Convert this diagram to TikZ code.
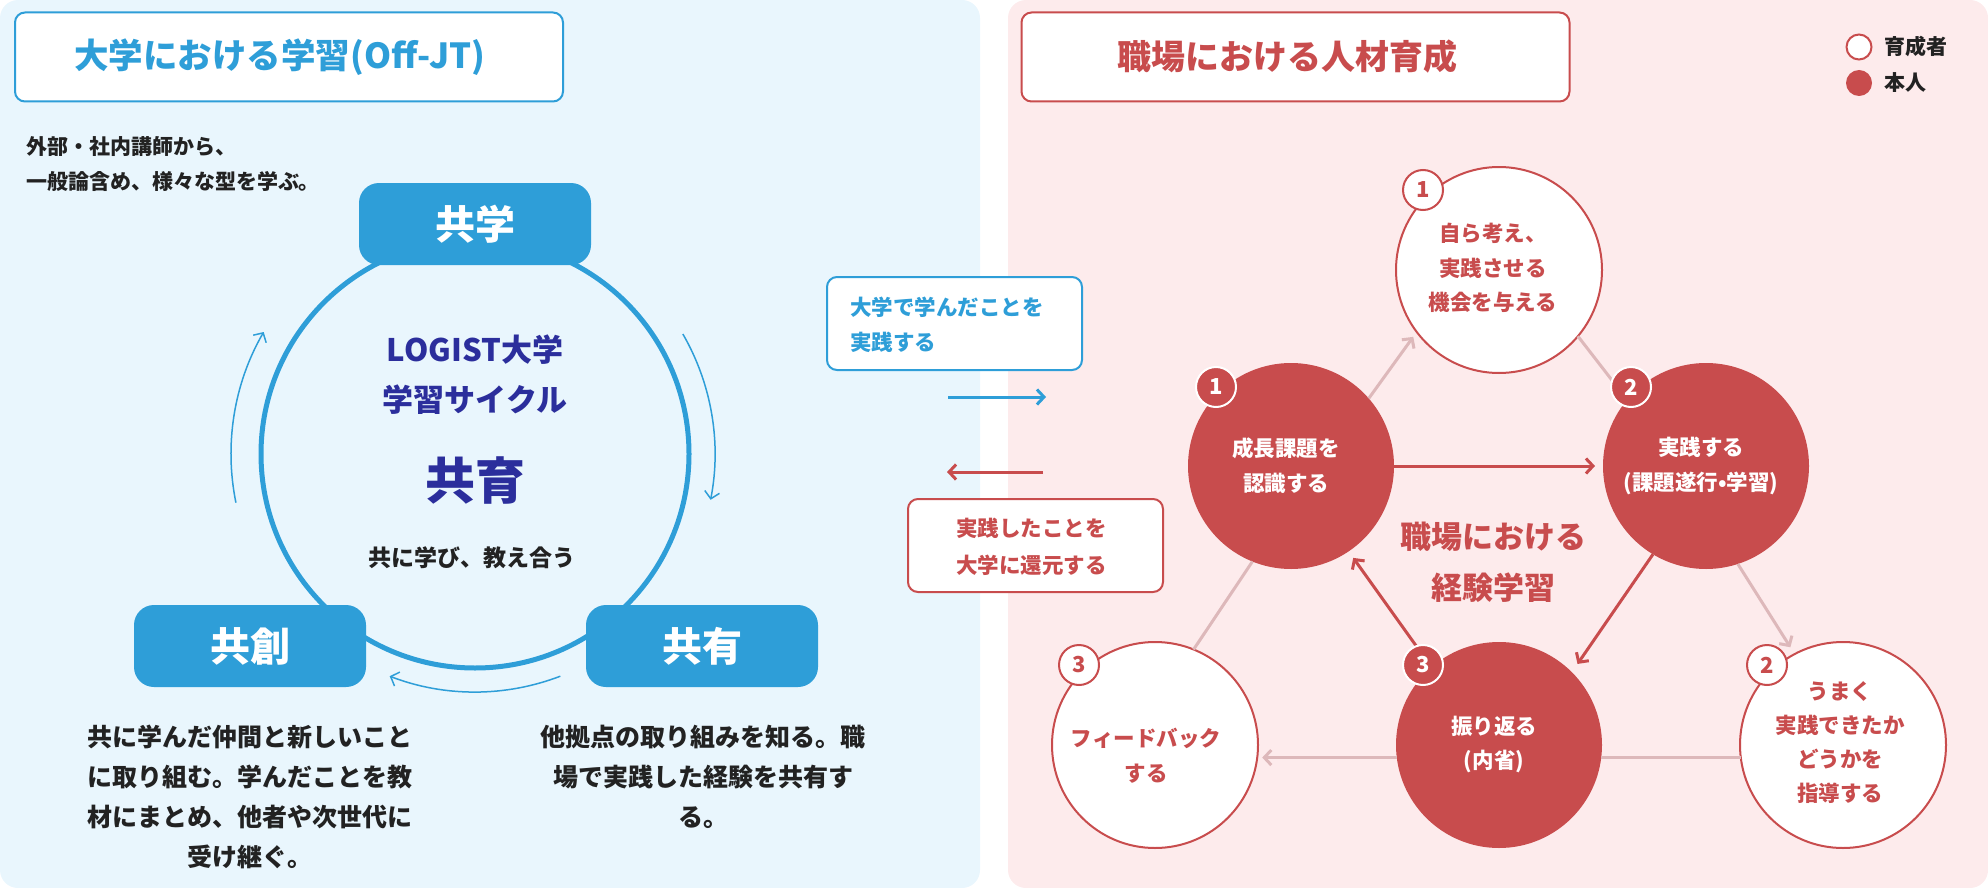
\documentclass[tikz,border=0pt]{standalone}
\usepackage{fontspec}
\setmainfont{Noto Sans CJK JP}
\usetikzlibrary{arrows.meta}
\definecolor{cblue}{HTML}{2E9ED8}
\definecolor{bgblue}{HTML}{E9F6FD}
\definecolor{bgpink}{HTML}{FDEBEC}
\definecolor{cred}{HTML}{C84C4D}
\definecolor{lpink}{HTML}{DDB8BA}
\definecolor{navy}{HTML}{2B2E9C}
\definecolor{ink}{HTML}{222222}
\newcommand{\fs}[2]{\fontsize{#1}{#2}\selectfont\bfseries}
\begin{document}
\begin{tikzpicture}[x=1pt,y=-1pt,
  every node/.style={inner sep=0pt, outer sep=0pt},
  titlebox/.style={draw, line width=2pt, rounded corners=10pt, fill=white, minimum width=548pt, minimum height=89pt},
  keybox/.style={fill=cblue, rounded corners=20pt, minimum width=232pt, minimum height=82pt, text=white, font=\fs{40}{48}},
  wc/.style={circle, draw=cred, line width=2pt, fill=white, minimum size=206pt},
  rc/.style={circle, fill=cred, minimum size=206pt},
  wbadge/.style={circle, draw=cred, line width=2pt, fill=white, text=cred, minimum size=40pt, font=\fs{22}{26}},
  rbadge/.style={circle, draw=white, line width=2pt, fill=cred, text=white, minimum size=40pt, font=\fs{22}{26}},
  wtext/.style={text=cred, align=center},
  rtext/.style={text=white, align=center},
  barb/.style={-{Straight Barb[length=7pt,width=15pt]}},
  thinarc/.style={cblue, line width=1.5pt, barb},
  lpline/.style={lpink, line width=3pt},
  rline/.style={cred, line width=3pt}
]
\useasboundingbox (0,0) rectangle (1988,888);
% panels
\fill[bgblue, rounded corners=18pt] (0,0) rectangle (980,888);
\fill[bgpink, rounded corners=18pt] (1008,0) rectangle (1988,888);

% ===== left panel =====
\node[titlebox, draw=cblue] (tl) at (289,57) {};
\node[text=cblue, font=\fs{34.5}{40}] (tlt) at (280,57) {大学における学習(Off-JT)};
\node[anchor=west, align=left, text=ink, font=\fs{21}{35}] (intro) at (26,164.5) {外部・社内講師から、\\一般論含め、様々な型を学ぶ。};

\coordinate (cc) at (475,454);
\draw[cblue, line width=5pt] (cc) circle[radius=214];
\draw[thinarc] ([shift={(-191.5:244)}]cc) arc[start angle=-191.5, end angle=-150, radius=244];
\draw[thinarc] ([shift={(-30:240)}]cc) arc[start angle=-30, end angle=11, radius=240];
\draw[thinarc] ([shift={(69:238)}]cc) arc[start angle=69, end angle=111, radius=238];

\node[keybox] (kg) at (475,224) {共学};
\node[keybox] (ks) at (250,646) {共創};
\node[keybox] (ky) at (702,646) {共有};

\node[text=navy, align=center, font=\fs{31}{50}] (lg) at (475,375) {LOGIST大学\\学習サイクル};
\node[text=navy, font=\fs{50}{56}] (ki) at (475,480) {共育};
\node[text=ink, font=\fs{23}{28}] (km) at (472,558) {共に学び、教え合う};

\node[text=ink, align=center, font=\fs{25}{40}] (t1) at (250,797) {共に学んだ仲間と新しいこと\\に取り組む。学んだことを教\\材にまとめ、他者や次世代に\\受け継ぐ。};
\node[text=ink, align=center, font=\fs{25}{40}] (t2) at (703,777) {他拠点の取り組みを知る。職\\場で実践した経験を共有す\\る。};

% ===== middle =====
\node[draw=cblue, line width=2pt, fill=white, rounded corners=10pt, minimum width=255pt, minimum height=93pt] (mb1) at (954.5,323.5) {};
\node[text=cblue, anchor=west, align=left, font=\fs{21.5}{35}] (mb1t) at (850,324.5) {大学で学んだことを\\実践する};
\node[draw=cred, line width=2pt, fill=white, rounded corners=10pt, minimum width=255pt, minimum height=93pt] (mb2) at (1035.5,545.5) {};
\node[text=cred, anchor=west, align=left, font=\fs{21.5}{37}] (mb2t) at (956,546.5) {実践したことを\\大学に還元する};
\coordinate (ba1) at (948,397);
\coordinate (ba2) at (1046,397);
\coordinate (ra1) at (1043,472);
\coordinate (ra2) at (947,472);
\draw[cblue, line width=3pt, barb] (ba1) -- (ba2);
\draw[cred, line width=3pt, barb] (ra1) -- (ra2);

% ===== right panel =====
\node[titlebox, draw=cred] (tr) at (1295.5,57) {};
\node[text=cred, font=\fs{34}{40}] (trt) at (1287,57) {職場における人材育成};
\node[circle, draw=cred, line width=2pt, fill=white, minimum size=25pt] (lg1) at (1859,47) {};
\node[anchor=west, text=ink, font=\fs{21}{26}] (lg1t) at (1884,47) {育成者};
\node[circle, fill=cred, minimum size=26pt] (lg2) at (1859,83) {};
\node[anchor=west, text=ink, font=\fs{21}{26}] (lg2t) at (1884,83) {本人};

\node[wc] (w1) at (1499,270) {};
\node[rc] (r1) at (1291,466) {};
\node[rc] (r2) at (1706,466) {};
\node[rc] (r3) at (1499,745) {};
\node[wc] (w3) at (1155,745) {};
\node[wc] (w2) at (1843,745) {};

% light connectors
\draw[lpline, barb, shorten >=6pt] (r1.41.5) -- (w1.217);
\draw[lpline] (w1.-40) -- (r2.140);
\draw[lpline, barb, shorten >=8pt] (r2.-72) -- (w2.118);
\draw[lpline] (w2.187) -- (r3.-7);
\draw[lpline, barb, shorten >=5pt] (r3.187) -- (w3.-7);
\draw[lpline] (w3.68) -- (r1.248);
% dark connectors
\draw[rline, barb, shorten >=8pt] (r1.east) -- (r2.west);
\draw[rline, barb, shorten >=10pt] (r2.239) -- (r3.45);
\draw[rline, barb, shorten >=8pt] (r3.131) -- (r1.-56);

% badges
\node[wbadge] (bw1) at ([shift={(-76,-80)}]w1.center) {1};
\node[rbadge] (br1) at ([shift={(-75,-79)}]r1.center) {1};
\node[rbadge] (br2) at ([shift={(-75,-79)}]r2.center) {2};
\node[rbadge] (br3) at ([shift={(-76,-80)}]r3.center) {3};
\node[wbadge] (bw3) at ([shift={(-76,-80)}]w3.center) {3};
\node[wbadge] (bw2) at ([shift={(-76,-80)}]w2.center) {2};

% circle texts
\node[wtext, font=\fs{21.5}{34.5}] (w1t) at (1493,268) {自ら考え、\\実践させる\\機会を与える};
\node[rtext, font=\fs{21.5}{35}] (r1t) at (1286,465.5) {成長課題を\\認識する};
\node[rtext, font=\fs{21.5}{35}] (r2t) at (1701,465.5) {実践する\\(課題遂行•学習)};
\node[rtext, font=\fs{21.5}{34}] (r3t) at (1494,745) {振り返る\\(内省)};
\node[wtext, font=\fs{21.5}{35}] (w3t) at (1146,755.5) {フィードバック\\する};
\node[wtext, font=\fs{21.5}{33.7}] (w2t) at (1840,742.5) {うまく\\実践できたか\\どうかを\\指導する};
\node[text=cred, align=center, font=\fs{31}{51}] (ctr) at (1493,562.5) {職場における\\経験学習};
\end{tikzpicture}
\end{document}
